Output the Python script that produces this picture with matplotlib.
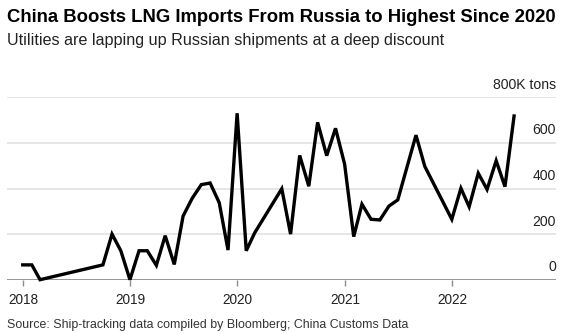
import matplotlib
matplotlib.use("Agg")
import matplotlib.pyplot as plt
import matplotlib.dates as mdates
import matplotlib.transforms as mtransforms
import pandas as pd

# Monthly LNG imports from Russia (thousand tons), months with no data are left out
months = ["2017-12", "2018-01", "2018-02", "2018-09", "2018-10", "2018-11", "2018-12",
          "2019-01", "2019-02", "2019-03", "2019-04", "2019-05", "2019-06", "2019-07",
          "2019-08", "2019-09", "2019-10", "2019-11", "2019-12", "2020-01", "2020-02",
          "2020-05", "2020-06", "2020-07", "2020-08", "2020-09", "2020-10", "2020-11",
          "2020-12", "2021-01", "2021-02", "2021-03", "2021-04", "2021-05", "2021-06",
          "2021-08", "2021-09", "2021-12", "2022-01", "2022-02", "2022-03", "2022-04",
          "2022-05", "2022-06", "2022-07"]
values = [65, 65, 0, 65, 200, 127, 0,
          127, 127, 63, 193, 67, 279, 357,
          417, 424, 338, 130, 730, 127, 206,
          399, 200, 545, 410, 690, 544, 664,
          507, 189, 331, 265, 262, 323, 350,
          634, 497, 265, 401, 320, 467, 396,
          522, 408, 718]

year_ticks = ["2018", "2019", "2020", "2021", "2022"]
y_ticks = [0, 200, 400, 600, 800]
y_labels = ["0", "200", "400", "600", "800K tons"]

title = "China Boosts LNG Imports From Russia to Highest Since 2020"
subtitle = "Utilities are lapping up Russian shipments at a deep discount"
source = "Source: Ship-tracking data compiled by Bloomberg; China Customs Data"

plt.rcParams["font.family"] = ["Liberation Sans", "DejaVu Sans"]

W, H = 576, 334
fig = plt.figure(figsize=(W / 100, H / 100), dpi=100)

# axes box in pixels (from top-left)
left, right, top, bottom = 7, 556, 97.3, 279.7
ax = fig.add_axes([left / W, 1 - bottom / H, (right - left) / W, (bottom - top) / H])

dates = pd.to_datetime(months) + pd.offsets.MonthEnd(0)
ax.plot(dates, values, color="black", lw=2.4, solid_joinstyle="miter", clip_on=False, zorder=3)

# x range: a bit before the first point, room on the right for the labels
x0 = mdates.date2num(dates[0])
month = 30.44
ax.set_xlim(x0 - 1.76 * month, x0 + 59.65 * month)
ax.set_ylim(0, 800)

for s in ax.spines.values():
    s.set_visible(False)
ax.axhline(0, color="#8c8c8c", lw=1.3, zorder=2)
for v in y_ticks[1:]:
    ax.axhline(v, color="#e2e2e2", lw=1.2, zorder=1)

ax.set_yticks([])
ax.set_xticks(pd.to_datetime([y + "-01-01" for y in year_ticks]))
ax.set_xticklabels(year_ticks)
ax.tick_params(axis="x", length=4, width=1, color="#8c8c8c", pad=5.5,
               labelsize=9.8, labelcolor="#222222")

# y labels sit above their gridlines, right aligned
shift = mtransforms.ScaledTranslation(0, 12.5 / 100, fig.dpi_scale_trans)
trans = mtransforms.blended_transform_factory(ax.transAxes, ax.transData) + shift
for v, lab in zip(y_ticks, y_labels):
    ax.text(1.0, v, lab, transform=trans, ha="right", va="center",
            fontsize=10.1, color="#222222")


def fit(t, width_px):
    r = fig.canvas.get_renderer()
    bb = t.get_window_extent(r)
    t.set_fontsize(t.get_fontsize() * width_px / bb.width)


t1 = fig.text(7 / W, 1 - 22.3 / H, title, fontsize=13, fontweight="bold",
              color="black", va="baseline")
t2 = fig.text(7 / W, 1 - 45 / H, subtitle, fontsize=11.5, color="#222222", va="baseline")
t3 = fig.text(7 / W, 1 - 327.7 / H, source, fontsize=9, color="#333333", va="baseline")
fit(t1, 551)
fit(t2, 436)
fit(t3, 400)

fig.savefig("out.png", dpi=100)
